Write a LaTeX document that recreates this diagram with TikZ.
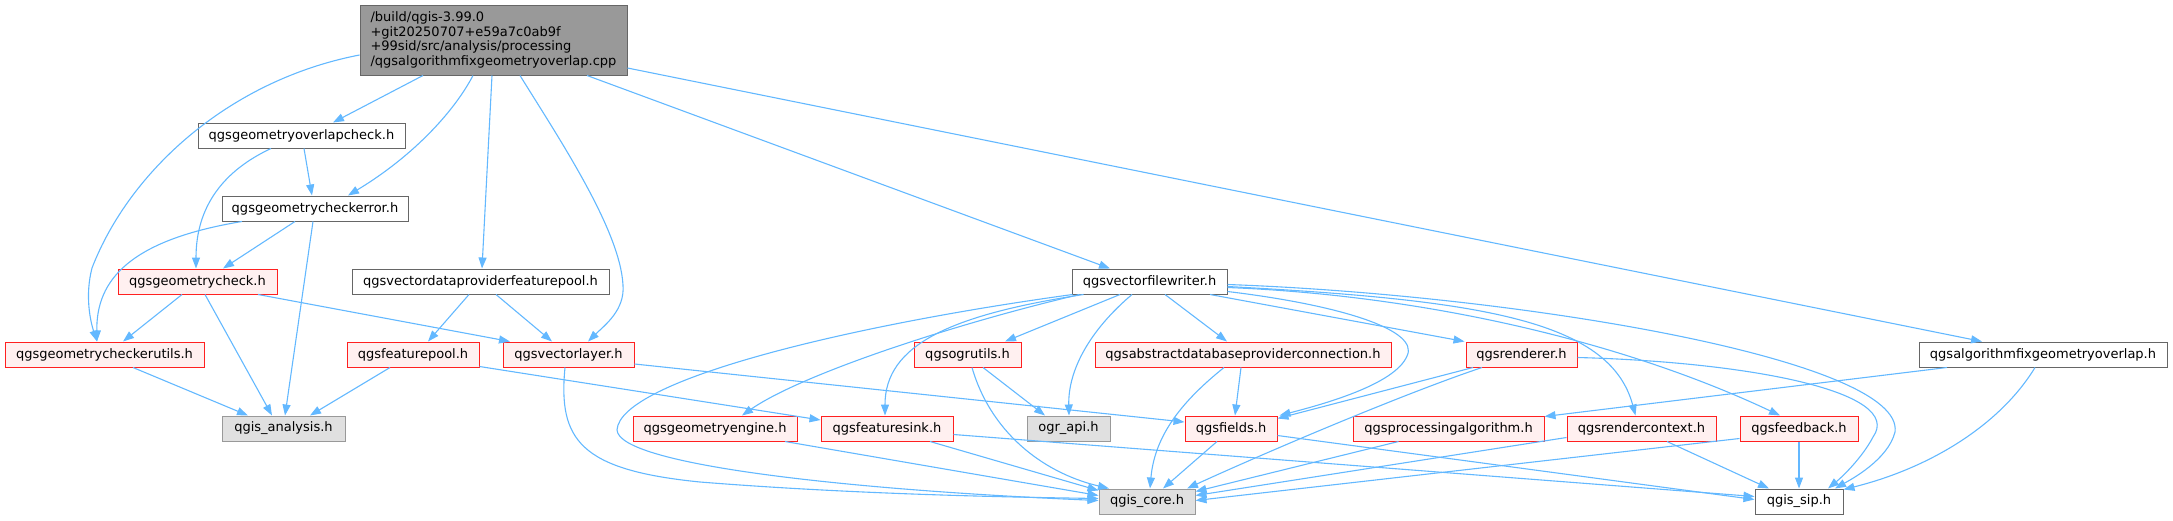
\documentclass[tikz,border=0pt]{standalone}
\usepackage{fontspec}
\usetikzlibrary{arrows.meta}
\newfontfamily\dvfont{DejaVu Sans}
\definecolor{edgec}{HTML}{63B8FF}
\definecolor{rfill}{HTML}{FFF0F0}
\definecolor{gfill}{HTML}{E0E0E0}
\definecolor{rootfill}{HTML}{999999}
\definecolor{cdark}{HTML}{666666}
\definecolor{cgray}{HTML}{999999}
\definecolor{cred}{HTML}{FF2020}
\tikzset{
  nd/.style={draw, line width=1pt, inner sep=0pt, minimum height=25pt, anchor=center,
    font=\dvfont\fontsize{13}{14.7}\selectfont, text=black},
  wnode/.style={nd, draw=cdark, fill=white},
  rnode/.style={nd, draw=cred, fill=rfill},
  gnode/.style={nd, draw=cgray, fill=gfill},
  rootnode/.style={nd, draw=cdark, fill=rootfill, align=left, minimum height=70pt},
  e/.style={draw=edgec, line width=1.1pt, -{Triangle[length=11pt,width=8pt]}}
}
\begin{document}
\begin{tikzpicture}[x=1pt,y=-1pt]
\useasboundingbox (0,0) rectangle (2173,520);
% nodes
\node[rootnode, minimum width=267pt] (root) at (493.5,40) {/build/qgis-3.99.0\\+git20250707+e59a7c0ab9f\\+99sid/src/analysis/processing\\/qgsalgorithmfixgeometryoverlap.cpp};
\node[wnode, minimum width=207pt] (ovl) at (301.5,135.5) {qgsgeometryoverlapcheck.h};
\node[wnode, minimum width=186pt] (err) at (315,208.5) {qgsgeometrycheckerror.h};
\node[rnode, minimum width=159pt] (chk) at (197.5,281.5) {qgsgeometrycheck.h};
\node[rnode, minimum width=199pt] (utl) at (104.5,354.5) {qgsgeometrycheckerutils.h};
\node[gnode, minimum width=123pt] (ana) at (283.5,428.5) {qgis\_analysis.h};
\node[wnode, minimum width=257pt] (vdp) at (480.5,281.5) {qgsvectordataproviderfeaturepool.h};
\node[rnode, minimum width=132pt] (fpl) at (413,354.5) {qgsfeaturepool.h};
\node[rnode, minimum width=131pt] (vl) at (568.5,354.5) {qgsvectorlayer.h};
\node[rnode, minimum width=164pt] (gen) at (715,428.5) {qgsgeometryengine.h};
\node[rnode, minimum width=132pt] (fsk) at (887,428.5) {qgsfeaturesink.h};
\node[rnode, minimum width=107pt] (ogu) at (967.5,354.5) {qgsogrutils.h};
\node[gnode, minimum width=83pt] (ogr) at (1068.5,428.5) {ogr\_api.h};
\node[wnode, minimum width=155pt] (vfw) at (1149.5,281.5) {qgsvectorfilewriter.h};
\node[rnode, minimum width=296pt] (adb) at (1243,354.5) {qgsabstractdatabaseproviderconnection.h};
\node[rnode, minimum width=111pt] (ren) at (1521.5,354.5) {qgsrenderer.h};
\node[rnode, minimum width=92pt] (fld) at (1231,428.5) {qgsfields.h};
\node[rnode, minimum width=191pt] (pra) at (1448.5,428.5) {qgsprocessingalgorithm.h};
\node[gnode, minimum width=96pt] (core) at (1147,501.5) {qgis\_core.h};
\node[rnode, minimum width=149pt] (rcx) at (1641.5,428.5) {qgsrendercontext.h};
\node[rnode, minimum width=118pt] (fbk) at (1799,428.5) {qgsfeedback.h};
\node[wnode, minimum width=88pt] (sip) at (1799,501.5) {qgis\_sip.h};
\node[wnode, minimum width=248pt] (afo) at (2043,354.5) {qgsalgorithmfixgeometryoverlap.h};
% edges from root
\draw[e] ([xshift=-70.5pt]root.south) -- ([xshift=31.5pt]ovl.north);
\draw[e] ([xshift=-20.5pt]root.south) .. controls (455,110) and (415,155) .. ([xshift=33pt]err.north);
\draw[e] ([yshift=-15pt]root.west) .. controls (230,80) and (130,170) .. (92,268) .. controls (85,295) and (90,320) .. ([xshift=-7.5pt]utl.north);
\draw[e] ([xshift=-1.5pt]root.south) -- ([xshift=1.5pt]vdp.north);
\draw[e] ([xshift=26.5pt]root.south) .. controls (560,140) and (620,230) .. (623,285) .. controls (625,310) and (605,325) .. ([xshift=19.5pt]vl.north);
\draw[e] ([xshift=93.5pt]root.south) -- ([xshift=-39.5pt]vfw.north);
\draw[e] ([yshift=-28pt]root.east) -- ([xshift=-61pt]afo.north);
% left cluster
\draw[e] ([xshift=2.5pt]ovl.south) -- ([xshift=-3pt]err.north);
\draw[e] ([xshift=-30.5pt]ovl.south) .. controls (225,170) and (196,205) .. ([xshift=-1.5pt]chk.north);
\draw[e] ([xshift=-20pt]err.south) -- ([xshift=25.5pt]chk.north);
\draw[e] ([xshift=-73pt]err.south) .. controls (130,240) and (96,280) .. ([xshift=-7.5pt]utl.north);
\draw[e] ([xshift=-2pt]err.south) -- ([xshift=1.5pt]ana.north);
\draw[e] ([xshift=-15.5pt]chk.south) -- ([xshift=18.5pt]utl.north);
\draw[e] ([xshift=7.5pt]chk.south) -- ([xshift=-11.5pt]ana.north);
\draw[e] ([xshift=60.5pt]chk.south) -- ([xshift=-58.5pt]vl.north);
\draw[e] ([xshift=28.5pt]utl.south) -- ([xshift=-35.5pt]ana.north);
\draw[e] ([xshift=-11.5pt]vdp.south) -- ([xshift=15pt]fpl.north);
\draw[e] ([xshift=15.5pt]vdp.south) -- ([xshift=-16.5pt]vl.north);
\draw[e] ([xshift=-23pt]fpl.south) -- ([xshift=26.5pt]ana.north);
\draw[e] ([yshift=-12pt]fpl.east) -- ([yshift=8.5pt]fsk.west);
\draw[e] ([xshift=-3.5pt]vl.south) .. controls (558,440) and (580,470) .. (700,482) .. controls (850,494) and (1000,497) .. ([yshift=3pt]core.west);
\draw[e] ([yshift=-9.5pt]vl.east) -- ([yshift=6.5pt]fld.west);
% from vectorfilewriter
\draw[e] ([xshift=-77pt]vfw.south) .. controls (850,325) and (620,380) .. (617,430) .. controls (619,465) and (850,490) .. ([yshift=1pt]core.west);
\draw[e] ([xshift=-70pt]vfw.south) .. controls (950,325) and (800,375) .. ([xshift=27pt]gen.north);
\draw[e] ([xshift=-66pt]vfw.south) .. controls (950,315) and (885,345) .. ([xshift=-2pt]fsk.north);
\draw[e] ([xshift=-29.5pt]vfw.south) -- ([xshift=37.5pt]ogu.north);
\draw[e] ([xshift=-17.5pt]vfw.south) .. controls (1090,330) and (1068,370) .. ([xshift=0.5pt]ogr.north);
\draw[e] ([xshift=15.5pt]vfw.south) -- ([xshift=-16pt]adb.north);
\draw[e] ([yshift=-10pt]vfw.east) .. controls (1340,305) and (1420,330) .. (1407,356) .. controls (1395,385) and (1320,405) .. ([xshift=2pt]fld.north east);
\draw[e] ([xshift=60.5pt]vfw.south) -- ([xshift=-1pt]ren.north west);
\draw[e] ([yshift=-5pt]vfw.east) .. controls (1480,300) and (1610,320) .. ([xshift=-6pt]rcx.north);
\draw[e] ([yshift=-6pt]vfw.east) .. controls (1420,295) and (1620,340) .. ([xshift=-19pt]fbk.north);
\draw[e] ([yshift=-3pt]vfw.east) .. controls (1520,295) and (1905,360) .. (1895,432) .. controls (1888,460) and (1850,480) .. ([xshift=36pt]sip.north);
% middle
\draw[e] ([xshift=-19pt]adb.south) .. controls (1190,395) and (1155,430) .. ([xshift=3pt]core.north);
\draw[e] ([xshift=-2pt]adb.south) -- ([xshift=4pt]fld.north);
\draw[e] ([xshift=15.5pt]ogu.south) -- ([xshift=-23.5pt]ogr.north);
\draw[e] ([xshift=4.5pt]ogu.south) .. controls (990,430) and (1040,472) .. ([xshift=-38pt]core.north);
\draw[e] ([xshift=43pt]fsk.south) -- ([yshift=-2pt]core.north west);
\draw[e] ([yshift=-6pt]fsk.east) -- ([yshift=5pt]sip.west);
\draw[e] ([xshift=70pt]gen.south) -- ([yshift=6pt]core.west);
\draw[e] ([xshift=-14pt]fld.south) -- ([xshift=16pt]core.north);
\draw[e] ([yshift=-7pt]fld.east) -- ([yshift=2pt]sip.west);
\draw[e] ([xshift=-48.5pt]ren.south) -- ([yshift=-3pt]fld.north east);
\draw[e] ([xshift=-39.5pt]ren.south) .. controls (1400,395) and (1260,455) .. ([xshift=40pt]core.north);
\draw[e] ([yshift=-3pt]ren.east) .. controls (1750,362) and (1905,392) .. (1873,437) .. controls (1862,458) and (1842,477) .. ([xshift=29pt]sip.north);
\draw[e] ([xshift=-50pt]pra.south) -- ([yshift=10pt]core.east);
\draw[e] ([yshift=-9pt]rcx.west) -- ([yshift=6pt]core.east);
\draw[e] ([xshift=25.5pt]rcx.south) -- ([xshift=-30pt]sip.north);
\draw[e] ([yshift=-10pt]fbk.west) -- ([yshift=1pt]core.east);
\draw[e] (fbk.south) -- (sip.north);
\draw[e] ([xshift=-96pt]afo.south) -- ([yshift=-1pt]pra.north east);
\draw[e] ([xshift=-8pt]afo.south) .. controls (2000,425) and (1930,468) .. ([yshift=-1pt]sip.north east);
\end{tikzpicture}
\end{document}
